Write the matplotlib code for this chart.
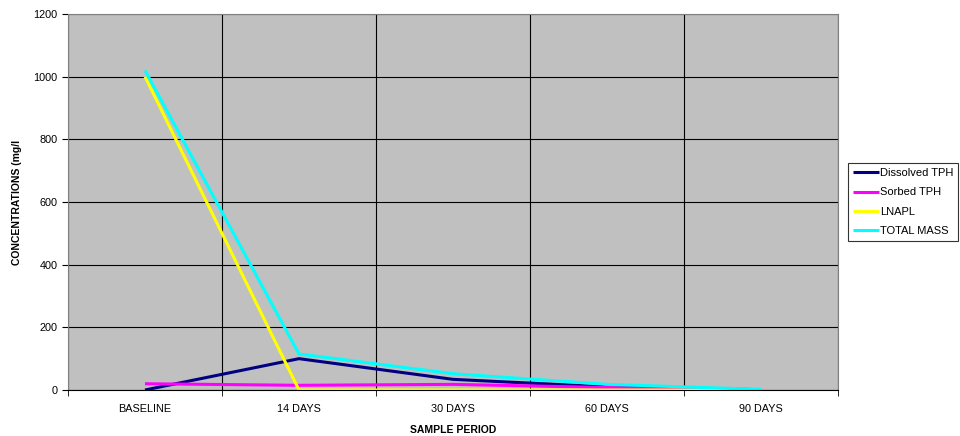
"""Concentration trends over the sampling period."""

import matplotlib
matplotlib.use("Agg")
import matplotlib.pyplot as plt
import numpy as np

plt.rcParams["font.family"] = ["Liberation Sans", "DejaVu Sans"]

periods = ["BASELINE", "14 DAYS", "30 DAYS", "60 DAYS", "90 DAYS"]
dissolved_tph = [0, 100, 34, 10, 1]
sorbed_tph = [20, 15, 18, 8, 1]
lnapl = [1000, 0, 0, 0, 0]
total_mass = [1020, 115, 52, 18, 2]

series = [
    ("Dissolved TPH", dissolved_tph, "#000080"),
    ("Sorbed TPH", sorbed_tph, "#ff00ff"),
    ("LNAPL", lnapl, "#ffff00"),
    ("TOTAL MASS", total_mass, "#00ffff"),
]

fig = plt.figure(figsize=(9.6, 4.36), dpi=100)
ax = fig.add_axes([68 / 960, 1 - 390 / 436, 770 / 960, 376 / 436])
ax.set_facecolor("#c0c0c0")

x = np.arange(len(periods))
for name, vals, color in series:
    ax.plot(x, vals, color=color, linewidth=2.2, label=name, solid_capstyle="butt")

ax.set_xlim(-0.5, len(periods) - 0.5)
ax.set_ylim(0, 1200)
ax.set_yticks(np.arange(0, 1201, 200))
ax.set_xticks(x, periods)
ax.set_xticks(np.arange(-0.5, len(periods)), minor=True)
ax.grid(True, which="major", axis="y", color="black", linewidth=0.8)
ax.grid(True, which="minor", axis="x", color="black", linewidth=0.8)
ax.tick_params(axis="x", which="major", length=0, labelsize=7.8, pad=10)
ax.tick_params(axis="x", which="minor", length=4, direction="out")
ax.tick_params(axis="y", labelsize=7.8, length=4, direction="out")
for side in ["top", "right"]:
    ax.spines[side].set_color("#808080")
ax.spines["left"].set_color("#808080")
ax.spines["bottom"].set_color("black")
ax.set_axisbelow(True)

ax.set_xlabel("SAMPLE PERIOD", fontsize=7.5, fontweight="bold", labelpad=8)
ax.set_ylabel("CONCENTRATIONS (mg/l", fontsize=7.5, fontweight="bold", labelpad=8)

leg = fig.legend(
    loc="upper left",
    bbox_to_anchor=(848 / 960, 1 - 163 / 436),
    fontsize=8,
    frameon=True,
    fancybox=False,
    edgecolor="black",
    handlelength=2.3,
    handletextpad=0.1,
    labelspacing=0.85,
    borderpad=0.45,
    borderaxespad=0,
)
leg.get_frame().set_linewidth(0.8)

fig.savefig("out.png", dpi=100)
